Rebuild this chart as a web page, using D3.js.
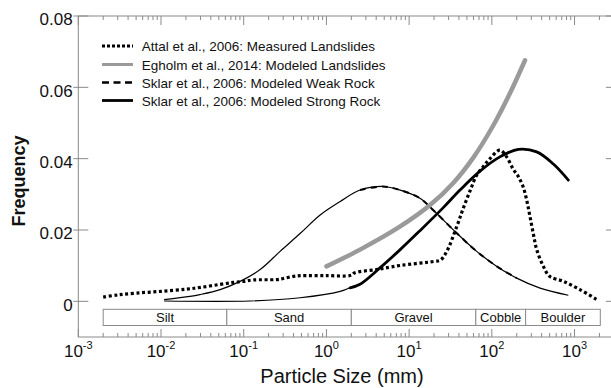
<!DOCTYPE html>
<html>
<head>
<meta charset="utf-8">
<script src="https://cdn.jsdelivr.net/npm/d3@7"></script>
<style>
  body { margin: 0; background: #fff; }
  svg { display: block; font-family: Arial, "Liberation Sans", sans-serif; }
</style>
</head>
<body>
<svg id="chart" width="611" height="388"></svg>
<script>
// ---- data (particle size in mm, frequency) ----
const attalMeasured = [
  [0.002, 0.0012], [0.003, 0.0018], [0.005, 0.0023], [0.01, 0.0028], [0.02, 0.0034],
  [0.03, 0.0039], [0.05, 0.0047], [0.075, 0.0053], [0.1, 0.0056], [0.13, 0.006],
  [0.25, 0.0061], [0.3, 0.0064], [0.4, 0.007], [0.5, 0.0072], [1, 0.0072], [2, 0.0073],
  [2.2, 0.008], [4, 0.0089], [5, 0.0093], [8, 0.0101], [20, 0.0112], [24, 0.0116],
  [28.5, 0.014], [37.7, 0.021], [45, 0.026], [55, 0.0312], [66, 0.0355], [79, 0.0378],
  [95, 0.040], [125, 0.0424], [151, 0.0405], [182, 0.037], [209, 0.035], [240, 0.032],
  [266, 0.028], [288, 0.024], [317, 0.019], [349, 0.0145], [420, 0.0098], [500, 0.007],
  [733, 0.0056], [1160, 0.0033], [1860, 0.0005]
];
const egholmModeled = [
  [1, 0.0098], [2.55, 0.0145], [7.8, 0.021], [17.9, 0.027], [34.2, 0.0332],
  [59.7, 0.0403], [104, 0.0493], [166, 0.0584], [252, 0.0676]
];
const sklarWeak = [
  [0.0109, 0.0005], [0.0224, 0.0014], [0.0295, 0.0019], [0.0519, 0.0033], [0.0904, 0.0056],
  [0.158, 0.0089], [0.275, 0.014], [0.48, 0.019], [0.84, 0.0242], [1.47, 0.028],
  [2.55, 0.0312], [4.8, 0.0322], [7.8, 0.0312], [13.5, 0.0289], [19.5, 0.0256],
  [37.7, 0.0191], [65.6, 0.014], [115, 0.0098], [200, 0.0065], [383, 0.0037], [841, 0.0017]
];
const sklarStrong = [
  [0.0109, 0.0001], [0.119, 0.0001], [0.48, 0.001], [1.47, 0.0028], [1.93, 0.0038],
  [2.55, 0.0048], [4.4, 0.0093], [7.8, 0.0145], [13.5, 0.0198], [25.7, 0.0262],
  [41.2, 0.0312], [72, 0.0365], [125, 0.0405], [209, 0.0426], [349, 0.0419],
  [555, 0.0385], [841, 0.034]
];
const grainClasses = ["Silt", "Sand", "Gravel", "Cobble", "Boulder"];
const grainBounds = [0.002, 0.0625, 2, 64, 256, 2048];
const yTicks = [0, 0.02, 0.04, 0.06, 0.08];
const yTickLabels = ["0", "0.02", "0.04", "0.06", "0.08"];
const xDecades = [-3, -2, -1, 0, 1, 2, 3];
const legendLabels = [
  "Attal et al., 2006: Measured Landslides",
  "Egholm et al., 2014: Modeled Landslides",
  "Sklar et al., 2006: Modeled Weak Rock",
  "Sklar et al., 2006: Modeled Strong Rock"
];

// ---- layout ----
const svg = d3.select("#chart");
const L = 78.3, R = 615.9, T = 16, B = 337;
const x = d3.scaleLog().domain([1e-3, Math.pow(10, 3.5)]).range([L, R]);
const y = d3.scaleLinear().domain([-0.01, 0.08]).range([B, T]);
const axisColor = "#8a8a8a";
const textColor = "#111";

// minor ticks
const minor = [];
for (let d = -3; d <= 3; d++) for (let m = 2; m <= 9; m++) {
  const v = m * Math.pow(10, d);
  if (v <= Math.pow(10, 3.5)) minor.push(v);
}
const majors = xDecades.map(d => Math.pow(10, d));

const g = svg.append("g");
// spines
g.append("rect").attr("x", L).attr("y", T).attr("width", R - L).attr("height", B - T)
  .attr("fill", "none").attr("stroke", axisColor).attr("stroke-width", 1);

// x ticks bottom/top
const tickG = g.append("g").attr("stroke", axisColor).attr("stroke-width", 1);
minor.forEach(v => {
  tickG.append("line").attr("x1", x(v)).attr("x2", x(v)).attr("y1", B).attr("y2", B - 4);
  tickG.append("line").attr("x1", x(v)).attr("x2", x(v)).attr("y1", T).attr("y2", T + 4);
});
majors.forEach(v => {
  tickG.append("line").attr("x1", x(v)).attr("x2", x(v)).attr("y1", B).attr("y2", B - 8);
  tickG.append("line").attr("x1", x(v)).attr("x2", x(v)).attr("y1", T).attr("y2", T + 9);
});
// y ticks left/right
yTicks.forEach(v => {
  tickG.append("line").attr("x1", L - 5).attr("x2", L + 10).attr("y1", y(v)).attr("y2", y(v));
  tickG.append("line").attr("x1", R - 10).attr("x2", R + 5).attr("y1", y(v)).attr("y2", y(v));
});

// y tick labels
yTicks.forEach((v, i) => {
  g.append("text").attr("x", 72.7).attr("y", y(v)).attr("dy", "0.55em")
    .attr("text-anchor", "end").attr("font-size", 17).attr("fill", textColor)
    .text(yTickLabels[i]);
});
// x tick labels
xDecades.forEach(d => {
  const t = g.append("text").attr("x", x(Math.pow(10, d))).attr("y", 357)
    .attr("text-anchor", "middle").attr("font-size", 17).attr("fill", textColor);
  t.append("tspan").text("10");
  t.append("tspan").attr("font-size", 11).attr("dy", -8).text(String(d));
});

// axis titles
g.append("text").attr("x", 342).attr("y", 383).attr("text-anchor", "middle")
  .attr("font-size", 20).attr("fill", textColor).text("Particle Size (mm)");
g.append("text").attr("transform", "translate(25,181) rotate(-90)").attr("text-anchor", "middle")
  .attr("font-size", 18).attr("font-weight", "bold").attr("fill", textColor).text("Frequency");

// grain class boxes
const boxTop = 309.3, boxBot = 325.5;
grainClasses.forEach((c, i) => {
  const x0 = x(grainBounds[i]), x1 = x(grainBounds[i + 1]);
  g.append("rect").attr("x", x0).attr("y", boxTop).attr("width", x1 - x0).attr("height", boxBot - boxTop)
    .attr("fill", "#fff").attr("stroke", axisColor).attr("stroke-width", 1);
  g.append("text").attr("x", (x0 + x1) / 2).attr("y", 322).attr("text-anchor", "middle")
    .attr("font-size", 13).attr("fill", textColor).text(c);
});

// curves
const line = d3.line().x(d => x(d[0])).y(d => y(d[1])).curve(d3.curveCatmullRom.alpha(0.5));
const cg = g.append("g").attr("fill", "none").attr("stroke-linejoin", "round");
// Sklar weak rock thin base + dashed overlay over modeled range
cg.append("path").attr("d", line(sklarWeak)).attr("stroke", "#000").attr("stroke-width", 1.2);
cg.append("path").attr("d", line(sklarWeak.filter(d => d[0] >= 2 && d[0] <= 260)))
  .attr("stroke", "#000").attr("stroke-width", 2).attr("stroke-dasharray", "6,5");
// Sklar strong rock thin base + thick over modeled range
cg.append("path").attr("d", line(sklarStrong)).attr("stroke", "#000").attr("stroke-width", 1.2);
cg.append("path").attr("d", line(sklarStrong.filter(d => d[0] >= 1.9)))
  .attr("stroke", "#000").attr("stroke-width", 2.8).attr("stroke-linecap", "round");
// Egholm
cg.append("path").attr("d", line(egholmModeled)).attr("stroke", "#9a9a9a").attr("stroke-width", 4.5)
  .attr("stroke-linecap", "round");
// Attal measured
cg.append("path").attr("d", line(attalMeasured)).attr("stroke", "#000").attr("stroke-width", 3.2)
  .attr("stroke-dasharray", "3,2.6");

// legend
const legY = [46, 64.5, 82.5, 100.5];
const legStyles = [
  { stroke: "#000", w: 3, dash: "3,2" },
  { stroke: "#9a9a9a", w: 3, dash: null },
  { stroke: "#000", w: 2.6, dash: "7,4.5" },
  { stroke: "#000", w: 2.8, dash: null }
];
legendLabels.forEach((lab, i) => {
  const s = legStyles[i];
  const ln = g.append("line").attr("x1", 102).attr("x2", 133).attr("y1", legY[i]).attr("y2", legY[i])
    .attr("stroke", s.stroke).attr("stroke-width", s.w);
  if (s.dash) ln.attr("stroke-dasharray", s.dash);
  g.append("text").attr("x", 141.7).attr("y", legY[i] + 5).attr("font-size", 13.5)
    .attr("fill", textColor).text(lab);
});
</script>
</body>
</html>
